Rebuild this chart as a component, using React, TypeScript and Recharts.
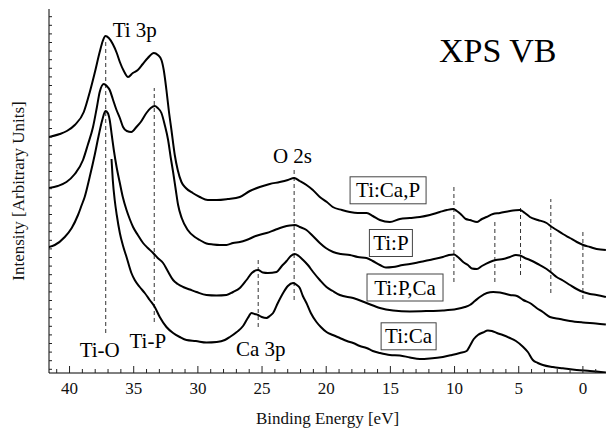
import React from 'react';
import { ComposedChart, Line, XAxis, YAxis, Scatter, Label } from 'recharts';

// Binding energy [eV], intensity [arb. units, offset spectra]
const tiCaP: [number, number][] = [
  [41.62, 236], [40.76, 239], [40.21, 242], [39.59, 248], [38.89, 261], [38.42, 281], [38.04, 300],
  [37.65, 321], [37.41, 332], [37.2, 337], [36.94, 335], [36.63, 329], [36.32, 320], [36.08, 311],
  [35.77, 302], [35.44, 296], [35.07, 300], [34.68, 303], [34.29, 309], [33.9, 315], [33.43, 320],
  [33.12, 318], [32.84, 313], [32.66, 303], [32.45, 283], [32.27, 263], [32.06, 243], [31.8, 218],
  [31.57, 203], [31.28, 191], [30.94, 185], [30.4, 180], [29.85, 176], [29.23, 173], [28.53, 173],
  [27.67, 174], [26.73, 176], [25.95, 182], [25.18, 186], [24.4, 189], [23.62, 191], [22.99, 193],
  [22.5, 195], [22.06, 192], [21.54, 188], [21.04, 183], [20.5, 176], [19.95, 171], [19.49, 166],
  [18.78, 163], [18.16, 161], [17.54, 160], [16.84, 160], [16.37, 157], [15.82, 153], [15.04, 151],
  [14.26, 154], [13.48, 155], [12.7, 156], [11.93, 158], [11.15, 161], [10.6, 163], [10.09, 164],
  [9.82, 162], [9.45, 158], [9.12, 154], [8.81, 153], [8.24, 151], [7.87, 154], [7.51, 156],
  [7.01, 159], [6.47, 160], [5.69, 162], [4.91, 163], [4.52, 160], [4.13, 156], [3.51, 153],
  [2.83, 150], [2.42, 146], [2.05, 143], [1.56, 139], [1.01, 135], [0.47, 131], [-0.02, 128],
  [-0.55, 126], [-1.07, 124], [-1.79, 123],
];

const tiP: [number, number][] = [
  [41.62, 185], [40.92, 187], [40.24, 191], [39.59, 199], [38.95, 213], [38.58, 228], [38.17, 246],
  [37.88, 265], [37.65, 281], [37.33, 289], [37.1, 287], [36.87, 283], [36.63, 274], [36.34, 263],
  [36.08, 255], [35.83, 246], [35.54, 242], [35.18, 241], [34.79, 246], [34.45, 251], [34.01, 260],
  [33.67, 265], [33.36, 267], [33.13, 265], [32.84, 260], [32.58, 248], [32.32, 233], [32.11, 215],
  [31.93, 201], [31.72, 183], [31.54, 168], [31.26, 155], [30.79, 143], [30.24, 136], [29.85, 133],
  [29.33, 129.5], [28.82, 128.5], [28.29, 128], [27.77, 128], [27.26, 130], [26.73, 131], [26.21, 133],
  [25.49, 137], [24.65, 140], [24.01, 143], [23.36, 146], [22.84, 147.5], [22.45, 148], [22.06, 146],
  [21.54, 143], [21.04, 137], [20.5, 130], [20.03, 125], [19.46, 121], [18.86, 119], [18.16, 118],
  [17.54, 116], [16.86, 115], [16.37, 112], [15.82, 108], [15.35, 105.5], [14.81, 106], [14.03, 108],
  [13.48, 109], [12.7, 111], [11.93, 113], [10.91, 116], [10.44, 118], [10.05, 118.5], [9.74, 116],
  [9.33, 111], [8.96, 108], [8.65, 104.5], [8.26, 104], [7.87, 107], [7.25, 111], [6.78, 113],
  [6.21, 114], [5.69, 116], [5.22, 118], [4.91, 117.5], [4.52, 115], [4.13, 113], [3.51, 109],
  [2.83, 104], [2.42, 100], [2.05, 96], [1.56, 92.5], [1.01, 88], [0.49, 84], [-0.02, 81],
  [-0.55, 79], [-1.07, 78], [-1.79, 76],
];

const tiPCa: [number, number][] = [
  [41.62, 126], [41.15, 128], [40.37, 136], [39.83, 145], [39.34, 158], [39.05, 168], [38.82, 176],
  [38.43, 196], [38.04, 218], [37.72, 238], [37.45, 253], [37.2, 262], [37.02, 260], [36.87, 253],
  [36.71, 238], [36.55, 223], [36.32, 205], [36.08, 190], [35.85, 176], [35.56, 163], [35.31, 154],
  [35.05, 146], [34.68, 138], [34.27, 130], [33.9, 125], [33.49, 120], [33.13, 115], [32.71, 110],
  [32.35, 102], [31.93, 93], [31.57, 89], [31.15, 86], [30.63, 83.5], [30.11, 81], [29.33, 78],
  [28.55, 77.5], [27.77, 78], [27.26, 81], [26.73, 85], [26.21, 93], [25.8, 100], [25.31, 103],
  [24.94, 100.5], [24.55, 100], [23.87, 101], [23.46, 107], [23.09, 112], [22.76, 117], [22.45, 119],
  [22.14, 117], [21.8, 113], [21.43, 108], [21.02, 101], [20.5, 93], [19.98, 86], [19.49, 82],
  [18.94, 78], [17.9, 75], [16.86, 70], [15.82, 65], [14.79, 62.5], [13.48, 61.5], [11.93, 62],
  [10.91, 62.5], [9.84, 64], [9.2, 66], [8.81, 68], [8.42, 72], [8.03, 76], [7.48, 80], [6.99, 81],
  [6.47, 80.5], [5.69, 78], [5.14, 77], [4.65, 73], [4.13, 70], [3.61, 65], [3.12, 61], [2.57, 56],
  [1.79, 54], [1.01, 52], [0.0, 50.5], [-1.01, 49.5], [-1.79, 48.5],
];

const tiCa: [number, number][] = [
  [36.73, 214], [36.63, 193], [36.48, 173], [36.32, 158], [36.08, 140], [35.85, 128], [35.56, 116],
  [35.18, 100], [34.92, 93], [34.53, 86], [34.14, 80], [33.75, 73], [33.36, 66], [32.97, 56],
  [32.45, 46], [31.93, 40], [31.41, 36], [30.89, 33], [30.16, 32], [29.33, 30.5], [28.53, 31],
  [27.9, 33], [27.51, 36], [26.97, 41], [26.48, 47], [26.11, 55], [25.82, 60], [25.57, 59],
  [25.31, 58], [25.02, 56], [24.65, 55], [24.4, 57], [24.14, 60], [23.77, 70], [23.36, 80],
  [22.99, 87], [22.58, 90], [22.29, 88], [22.06, 85], [21.82, 77], [21.54, 70], [21.2, 60],
  [20.76, 51], [20.42, 46], [19.98, 41], [19.49, 38], [18.94, 35], [18.39, 32], [17.9, 30],
  [17.38, 27], [16.86, 25], [16.37, 22], [15.82, 20], [15.04, 18], [14.26, 17.5], [13.48, 15.5],
  [12.7, 14], [11.93, 14.5], [10.91, 16], [10.21, 18], [9.59, 20], [9.06, 22], [8.81, 27], [8.5, 34],
  [8.18, 38], [7.79, 40.5], [7.4, 42.5], [7.09, 42], [6.7, 40], [6.24, 38], [5.69, 35], [5.22, 32],
  [4.65, 26], [4.29, 21], [3.9, 13], [3.51, 10], [3.12, 8], [2.34, 6], [1.56, 4.7], [0.49, 3],
  [-0.55, 2], [-1.79, 0.5],
];

// Dashed peak markers: [energy, lower intensity, upper intensity]
const markers: [number, number, number][] = [
  [37.18, 40, 333],
  [33.4, 51, 285],
  [22.5, 73, 206],
  [25.3, 46, 115],
  [10.05, 91, 186],
  [6.86, 91, 153],
  [4.86, 98, 166],
  [2.5, 80, 174],
  [0.0, 74, 143],
];

// Peak annotations: [text, energy, intensity]
const peakLabels: [string, number, number][] = [
  ['Ti 3p', 34.92, 336],
  ['O 2s', 22.63, 210],
  ['Ti-O', 37.65, 16],
  ['Ti-P', 33.9, 25],
  ['Ca 3p', 25.1, 17],
];
const titleLabel: [string, number, number][] = [['XPS VB', 6.63, 311]];

// Sample labels (boxed): [text, energy, intensity]
const sampleLabels: [string, number, number][] = [
  ['Ti:Ca,P', 15.18, 182.7],
  ['Ti:P', 14.96, 130],
  ['Ti:P,Ca', 13.86, 85.5],
  ['Ti:Ca', 13.58, 36.7],
];

const energyTicks = [-1, 0, 1, 2, 3, 4, 5, 6, 7, 8, 9, 10, 11, 12, 13, 14, 15, 16, 17, 18, 19, 20,
  21, 22, 23, 24, 25, 26, 27, 28, 29, 30, 31, 32, 33, 34, 35, 36, 37, 38, 39, 40, 41];
const energyLabels = [0, 5, 10, 15, 20, 25, 30, 35, 40];
const intensityTicks = [3.7, 12.3, 20.9, 29.5, 38.1, 46.7, 55.3, 63.9, 72.5, 81.1, 89.7, 98.3, 106.9,
  115.5, 124.1, 132.7, 141.3, 149.9, 158.5, 167.1, 175.7, 184.3, 192.9, 201.5, 210.1, 218.7, 227.3,
  235.9, 244.5, 253.1, 261.7, 270.3, 278.9, 287.5, 296.1, 304.7, 313.3, 321.9, 330.5, 339.1, 347.7, 356.3];

const FONT = 'Liberation Serif, Times New Roman, DejaVu Serif, serif';
const txt = (size: number): React.CSSProperties => ({ fontFamily: FONT, fontSize: size });

const toPts = (arr: [number, number][]) => arr.map(([x, y]) => ({ x, y }));
const series = [tiCaP, tiP, tiPCa, tiCa].map(toPts);

const BottomTick = (props: any) => {
  const { x, y, payload } = props;
  const v = payload.value;
  const major = energyLabels.includes(v);
  return (
    <g>
      <line x1={x} x2={x} y1={y} y2={y - (major ? 7 : 4)} stroke="#222" strokeWidth={1} />
      {major ? (
        <text x={x} y={y + 21} textAnchor="middle" style={txt(17)} fill="#111">
          {v}
        </text>
      ) : null}
    </g>
  );
};

const TopTick = (props: any) => {
  const { x, y, payload } = props;
  const major = energyLabels.includes(payload.value);
  return <line x1={x} x2={x} y1={y} y2={y + (major ? 7 : 4)} stroke="#222" strokeWidth={1} />;
};

const LeftTick = (props: any) => {
  const { x, y } = props;
  return <line x1={x} x2={x + 3} y1={y} y2={y} stroke="#222" strokeWidth={1} />;
};

const boxWidths: Record<string, number> = { 'Ti:Ca,P': 76, 'Ti:P': 43, 'Ti:P,Ca': 76, 'Ti:Ca': 55 };

const PeakText = (props: any) => {
  const { cx, cy, payload } = props;
  return (
    <text x={cx} y={cy} textAnchor="middle" style={txt(21)} fill="#000">
      {payload.text}
    </text>
  );
};

const TitleText = (props: any) => {
  const { cx, cy, payload } = props;
  return (
    <text x={cx} y={cy} textAnchor="middle" style={txt(34)} fill="#000">
      {payload.text}
    </text>
  );
};

const BoxText = (props: any) => {
  const { cx, cy, payload } = props;
  const w = boxWidths[payload.text] || 60;
  const h = 27;
  return (
    <g>
      <rect x={cx - w / 2} y={cy - h / 2} width={w} height={h} fill="#fff" stroke="#444" strokeWidth={1} />
      <text x={cx} y={cy + 7} textAnchor="middle" style={txt(21)} fill="#000">
        {payload.text}
      </text>
    </g>
  );
};

const XTitle = (props: any) => {
  const vb = props.viewBox || { x: 49, y: 373, width: 557, height: 30 };
  return (
    <text x={vb.x + vb.width / 2} y={vb.y + 51} textAnchor="middle" style={txt(17)} fill="#111">
      Binding Energy [eV]
    </text>
  );
};

const YTitle = (props: any) => {
  const vb = props.viewBox || { x: 0, y: 9, width: 49, height: 364 };
  const cy = vb.y + vb.height / 2;
  return (
    <text
      x={18}
      y={cy}
      transform={`rotate(-90, 18, ${cy})`}
      textAnchor="middle"
      dominantBaseline="central"
      style={txt(17)}
      fill="#111"
    >
      Intensity [Arbitrary Units]
    </text>
  );
};

export default function App() {
  const peakData = peakLabels.map(([text, x, y]) => ({ text, x, y }));
  const titleData = titleLabel.map(([text, x, y]) => ({ text, x, y }));
  const sampleData = sampleLabels.map(([text, x, y]) => ({ text, x, y }));
  return (
    <div style={{ position: 'absolute', left: 0, top: 0, width: 606, height: 433, background: '#fff', fontFamily: FONT }}>
      <ComposedChart width={606} height={433} margin={{ top: 9, right: 0, bottom: 30, left: 0 }} style={{ fontFamily: FONT }}>
        <XAxis
          xAxisId="b"
          type="number"
          dataKey="x"
          domain={[-1.8, 41.6]}
          reversed
          allowDataOverflow
          ticks={energyTicks}
          interval={0}
          tickSize={0}
          tickMargin={0}
          tickLine={false}
          axisLine={{ stroke: '#000', strokeWidth: 1 }}
          height={30}
          tick={<BottomTick />}
        >
          <Label content={<XTitle />} />
        </XAxis>
        <XAxis
          xAxisId="t"
          orientation="top"
          type="number"
          dataKey="x"
          domain={[-1.8, 41.6]}
          reversed
          allowDataOverflow
          ticks={energyTicks}
          interval={0}
          tickSize={0}
          tickMargin={0}
          tickLine={false}
          axisLine={{ stroke: '#000', strokeWidth: 1 }}
          height={0}
          tick={<TopTick />}
        />
        <YAxis
          yAxisId="l"
          type="number"
          dataKey="y"
          domain={[0, 364]}
          allowDataOverflow
          ticks={intensityTicks}
          interval={0}
          tickSize={0}
          tickMargin={0}
          tickLine={false}
          axisLine={{ stroke: '#000', strokeWidth: 1 }}
          width={49}
          tick={<LeftTick />}
        >
          <Label content={<YTitle />} />
        </YAxis>
        {markers.map(([e, lo, hi], i) => (
          <Line
            key={'m' + i}
            xAxisId="t"
            yAxisId="l"
            data={[{ x: e, y: lo }, { x: e, y: hi }]}
            dataKey="y"
            stroke="#333"
            strokeWidth={1}
            strokeDasharray="4 3"
            dot={false}
            isAnimationActive={false}
          />
        ))}
        {series.map((d, i) => (
          <Line
            key={'s' + i}
            xAxisId="b"
            yAxisId="l"
            data={d}
            dataKey="y"
            type="monotone"
            stroke="#000"
            strokeWidth={2}
            dot={false}
            isAnimationActive={false}
          />
        ))}
        <Scatter xAxisId="b" yAxisId="l" data={peakData} dataKey="y" shape={<PeakText />} isAnimationActive={false} />
        <Scatter xAxisId="b" yAxisId="l" data={titleData} dataKey="y" shape={<TitleText />} isAnimationActive={false} />
        <Scatter xAxisId="b" yAxisId="l" data={sampleData} dataKey="y" shape={<BoxText />} isAnimationActive={false} />
      </ComposedChart>
    </div>
  );
}
